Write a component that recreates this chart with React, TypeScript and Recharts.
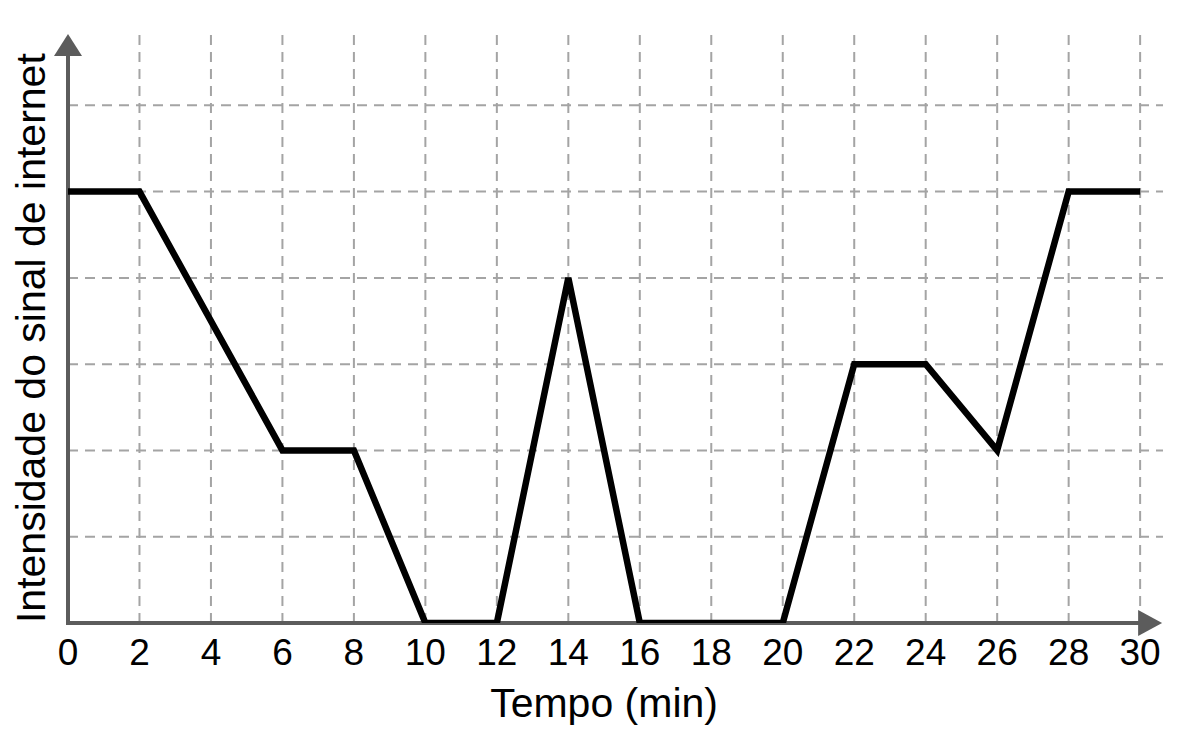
import {
  LineChart,
  Line,
  XAxis,
  YAxis,
  ReferenceLine,
  ReferenceDot,
  Label,
} from "recharts";

const TIME = [0, 2, 6, 8, 10, 12, 14, 16, 20, 22, 24, 26, 28, 30];
const SIGNAL = [5, 5, 2, 2, 0, 0, 4, 0, 0, 3, 3, 2, 5, 5];
const X_TICKS = [0, 2, 4, 6, 8, 10, 12, 14, 16, 18, 20, 22, 24, 26, 28, 30];
const Y_TICKS = [0, 1, 2, 3, 4, 5, 6];
const X_TITLE = "Tempo (min)";
const Y_TITLE = "Intensidade do sinal de internet";

// axis extents (a bit past the last grid line, where the arrows sit)
const X_MAX = 30.64;
const Y_MAX = 6.85;
const X_END = 30;
const Y_END = 6.56;

const data = TIME.map((t, i) => ({ t, signal: SIGNAL[i] }));

const FONT = '"Liberation Sans", Arial, Helvetica, sans-serif';
const AXIS = "#5c5c5c";
const GRID = "#a4a4a4";

/* ── arrow heads ── */
const ArrowRight = (p: any) => (
  <path
    d={`M${p.cx - 2},${p.cy - 13} L${p.cx + 22},${p.cy} L${p.cx - 2},${p.cy + 13} Z`}
    fill={AXIS}
  />
);

const ArrowUp = (p: any) => (
  <path
    d={`M${p.cx - 14},${p.cy + 24} L${p.cx},${p.cy + 2} L${p.cx + 14},${p.cy + 24} Z`}
    fill={AXIS}
  />
);

/* ── axis titles ── */
const XTitle = ({ viewBox }: any) => (
  <text
    x={viewBox.x + (viewBox.width * (X_END / 2)) / X_MAX}
    y={viewBox.y + 94}
    textAnchor="middle"
    fontSize={41}
    fontFamily={FONT}
    fill="#000"
  >
    {X_TITLE}
  </text>
);

const YTitle = ({ viewBox }: any) => {
  const cx = viewBox.x + 45;
  const cy = viewBox.y + viewBox.height * 0.518;
  return (
    <text
      transform={`translate(${cx},${cy}) rotate(-90)`}
      textAnchor="middle"
      fontSize={41}
      fontFamily={FONT}
      fill="#000"
    >
      {Y_TITLE}
    </text>
  );
};

export default function App() {
  return (
    <div style={{ width: 1200, height: 736, background: "#fff" }}>
      <style>{"body{margin:0}"}</style>
      <LineChart
        width={1200}
        height={736}
        data={data}
        margin={{ top: 32, right: 37, left: 0, bottom: 0 }}
      >
        <XAxis
          dataKey="t"
          type="number"
          domain={[0, X_MAX]}
          ticks={X_TICKS}
          interval={0}
          allowDataOverflow
          axisLine={false}
          tickLine={false}
          tickSize={0}
          tickMargin={16}
          height={113}
          tick={{ fontSize: 37, fill: "#000", fontFamily: FONT }}
        >
          <Label content={XTitle} />
        </XAxis>
        <YAxis
          type="number"
          domain={[0, Y_MAX]}
          ticks={Y_TICKS}
          allowDataOverflow
          axisLine={false}
          tickLine={false}
          tick={false}
          width={68}
        >
          <Label content={YTitle} />
        </YAxis>

        {/* dashed grid */}
        {Y_TICKS.slice(1).map((v) => (
          <ReferenceLine
            key={`h${v}`}
            y={v}
            stroke={GRID}
            strokeWidth={2}
            strokeDasharray="10 7"
          />
        ))}
        {X_TICKS.slice(1).map((v) => (
          <ReferenceLine
            key={`v${v}`}
            x={v}
            stroke={GRID}
            strokeWidth={2}
            strokeDasharray="10 7"
          />
        ))}

        {/* axes with arrows */}
        <ReferenceLine
          segment={[
            { x: 0, y: 0 },
            { x: X_END, y: 0 },
          ]}
          stroke={AXIS}
          strokeWidth={4}
          strokeLinecap="square"
        />
        <ReferenceLine
          segment={[
            { x: 0, y: 0 },
            { x: 0, y: Y_END },
          ]}
          stroke={AXIS}
          strokeWidth={4}
          strokeLinecap="square"
        />
        <ReferenceDot x={X_END} y={0} r={0} shape={ArrowRight} />
        <ReferenceDot x={0} y={Y_MAX} r={0} shape={ArrowUp} />

        <Line
          type="linear"
          dataKey="signal"
          stroke="#000"
          strokeWidth={6.5}
          strokeLinejoin="miter"
          dot={false}
          activeDot={false}
          isAnimationActive={false}
        />
      </LineChart>
    </div>
  );
}
